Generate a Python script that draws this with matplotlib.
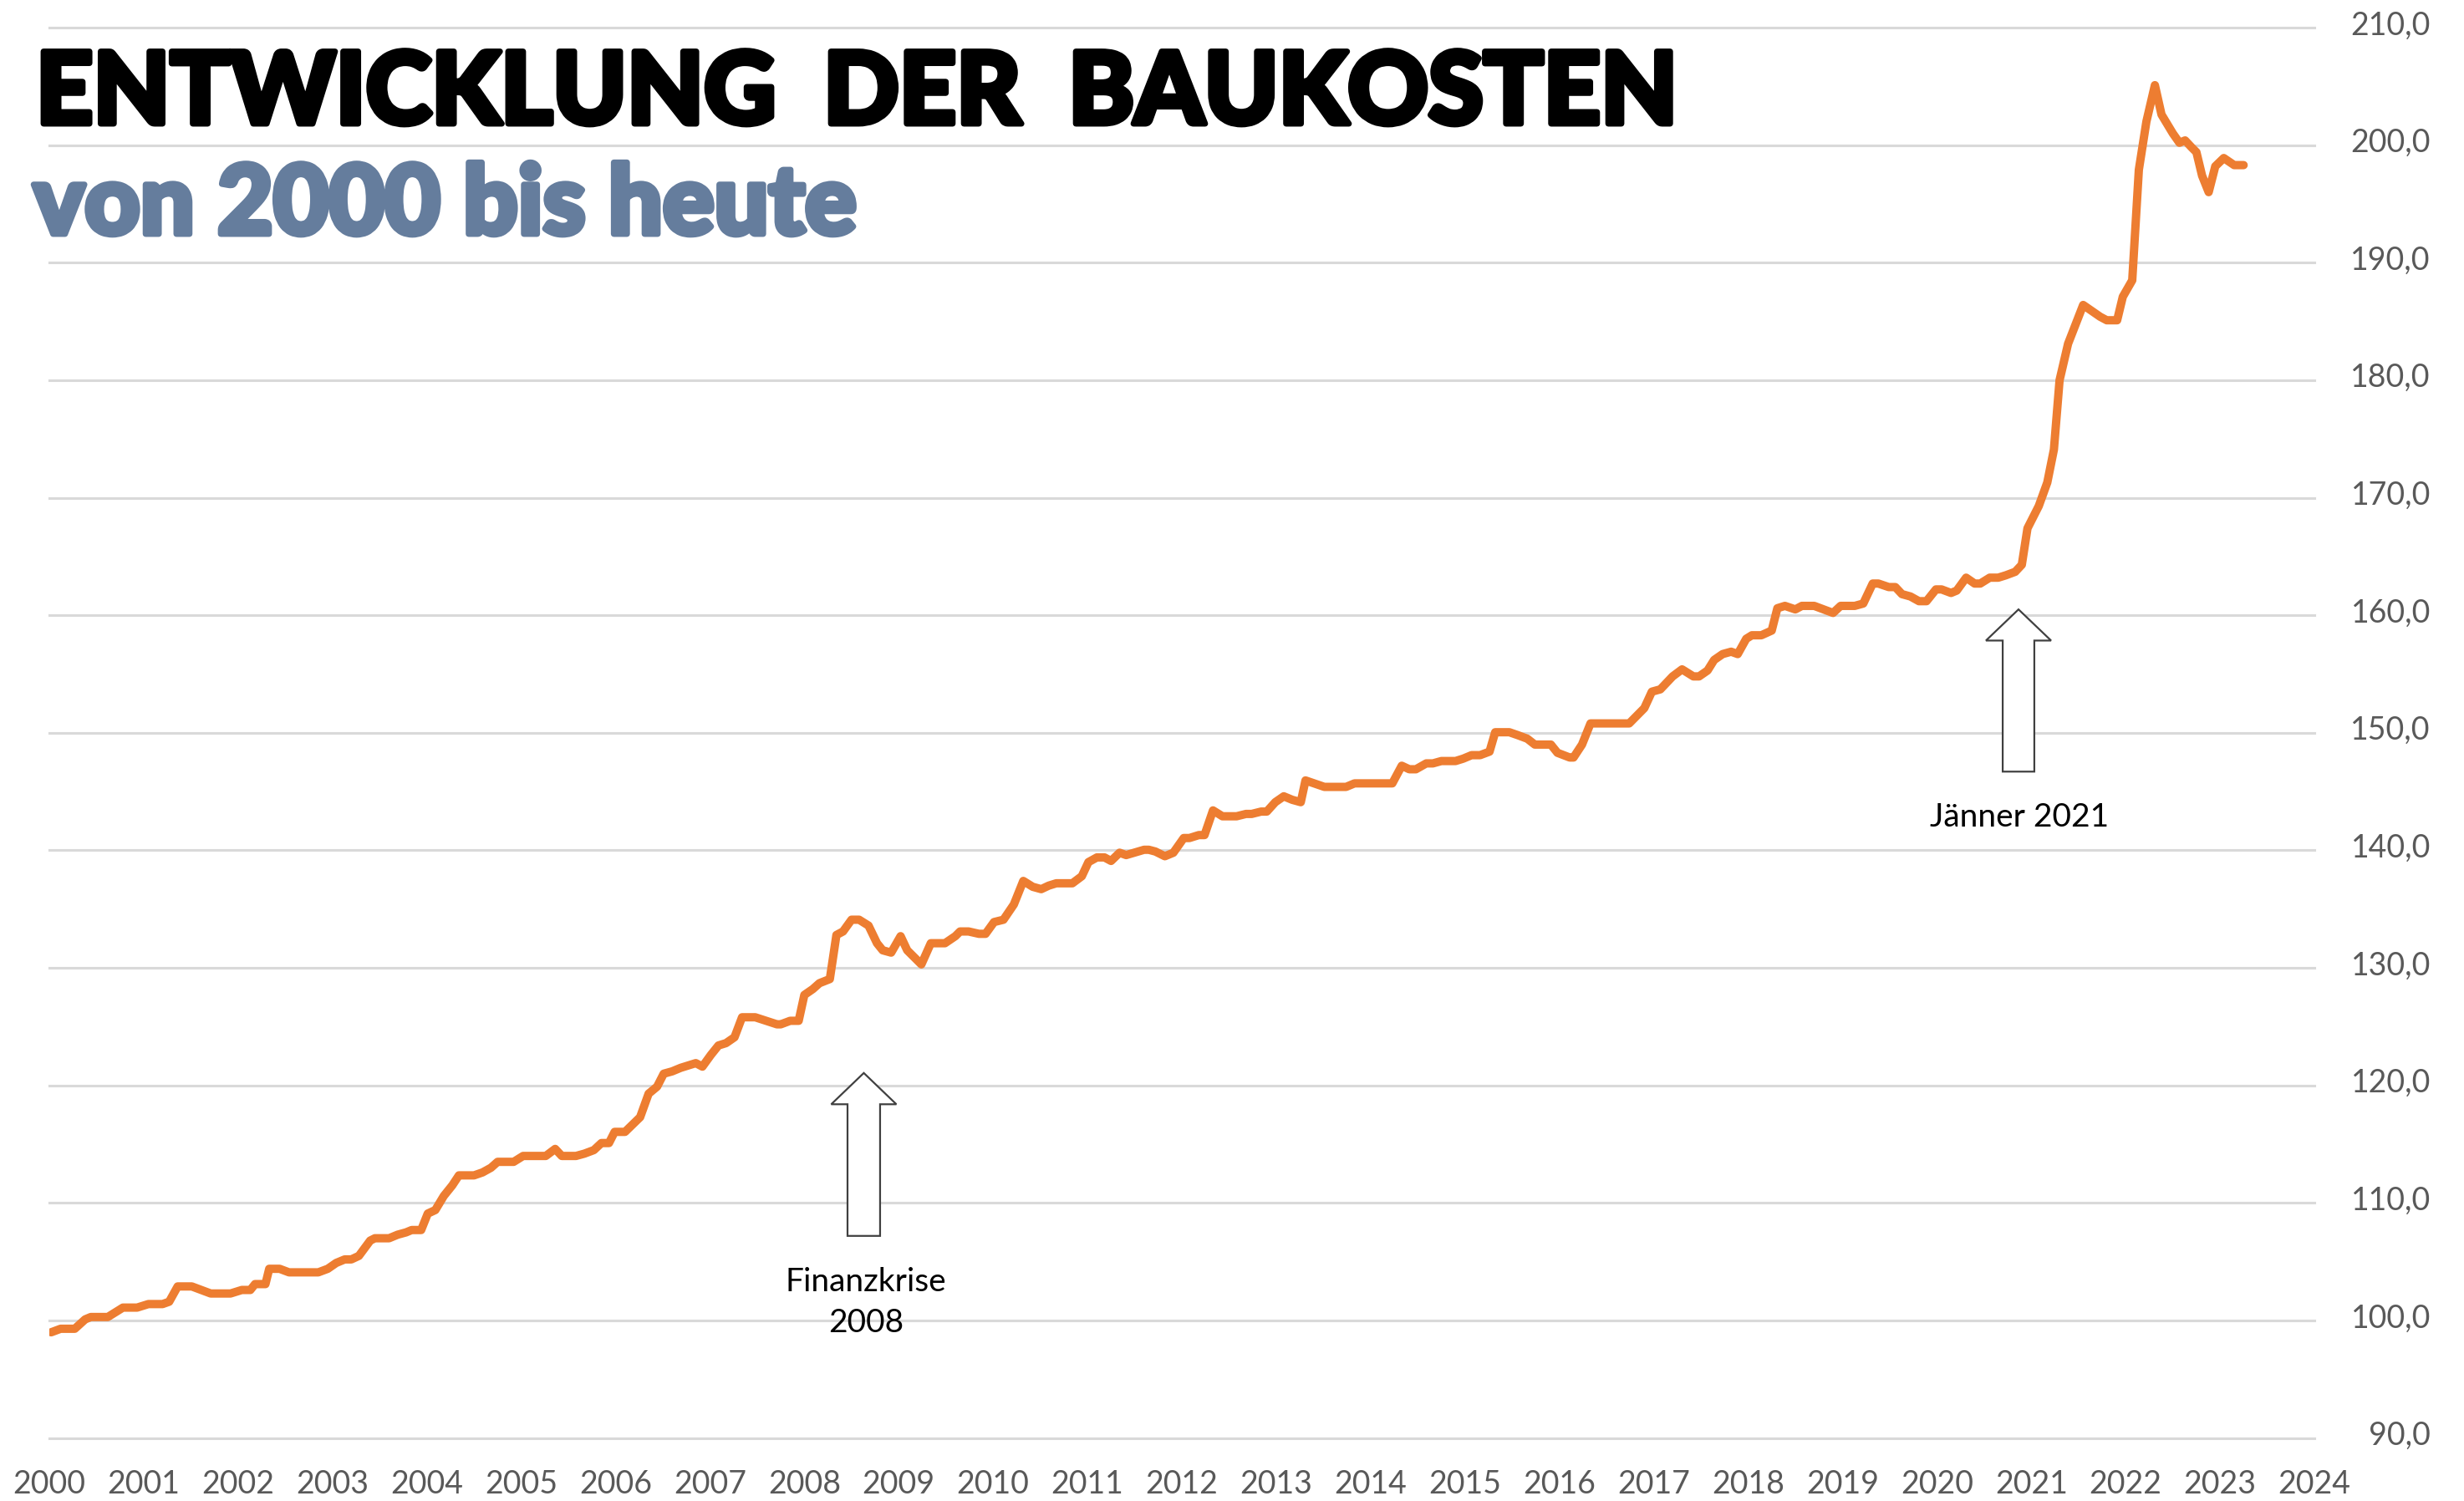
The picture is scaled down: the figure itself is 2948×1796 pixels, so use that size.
import matplotlib
matplotlib.use("Agg")
import matplotlib.pyplot as plt
import matplotlib.patheffects as pe
from matplotlib.ticker import FuncFormatter
from matplotlib.patches import FancyArrow
from matplotlib.transforms import ScaledTranslation

# ---------------- data ----------------
years = [
    2000.02, 2000.12, 2000.27, 2000.38, 2000.44, 2000.62, 2000.78, 2000.93,
    2001.05, 2001.20, 2001.27, 2001.36, 2001.51, 2001.71, 2001.92,
    2002.04, 2002.13, 2002.18, 2002.29, 2002.33, 2002.44, 2002.54, 2002.85, 2002.95,
    2003.04, 2003.13, 2003.20, 2003.28, 2003.40, 2003.45, 2003.60, 2003.69, 2003.78, 2003.84, 2003.94,
    2004.01, 2004.09, 2004.18, 2004.27, 2004.34, 2004.50, 2004.59, 2004.68, 2004.75, 2004.92,
    2005.02, 2005.26, 2005.36, 2005.43, 2005.58, 2005.67, 2005.77, 2005.85, 2005.93, 2005.99,
    2006.10, 2006.26, 2006.35, 2006.44, 2006.51, 2006.60, 2006.69, 2006.85, 2006.92,
    2007.01, 2007.09, 2007.17, 2007.26, 2007.34, 2007.48, 2007.71, 2007.75, 2007.85, 2007.94,
    2008.00, 2008.09, 2008.16, 2008.27, 2008.34, 2008.41, 2008.50, 2008.58, 2008.68, 2008.77, 2008.83, 2008.92,
    2009.02, 2009.09, 2009.24, 2009.34, 2009.49, 2009.60, 2009.65, 2009.74, 2009.85, 2009.92,
    2010.01, 2010.11, 2010.22, 2010.32, 2010.42, 2010.51, 2010.59, 2010.67, 2010.84, 2010.94,
    2011.01, 2011.10, 2011.18, 2011.25, 2011.34, 2011.41, 2011.60, 2011.65, 2011.72, 2011.82, 2011.91,
    2012.02, 2012.08, 2012.18, 2012.24, 2012.33, 2012.43, 2012.58, 2012.68, 2012.74, 2012.84, 2012.90, 2012.99,
    2013.08, 2013.17, 2013.26, 2013.31, 2013.51, 2013.74, 2013.83,
    2014.23, 2014.33, 2014.41, 2014.48, 2014.59, 2014.66, 2014.75, 2014.90, 2014.98,
    2015.07, 2015.16, 2015.26, 2015.32, 2015.47, 2015.56, 2015.66, 2015.74, 2015.91, 2015.98,
    2016.11, 2016.15, 2016.24, 2016.33, 2016.74, 2016.90, 2016.98,
    2017.07, 2017.20, 2017.30, 2017.42, 2017.48, 2017.57, 2017.64, 2017.73, 2017.82, 2017.89, 2017.98,
    2018.04, 2018.14, 2018.25, 2018.31, 2018.39, 2018.50, 2018.57, 2018.70, 2018.90, 2018.98,
    2019.13, 2019.22, 2019.32, 2019.38, 2019.49, 2019.56, 2019.63, 2019.72, 2019.81, 2019.89, 2019.99,
    2020.05, 2020.15, 2020.21, 2020.31, 2020.40, 2020.46, 2020.56, 2020.65, 2020.73, 2020.83, 2020.90, 2020.96,
    2021.08, 2021.17, 2021.24, 2021.30, 2021.39, 2021.55, 2021.73, 2021.80, 2021.91, 2021.97,
    2022.07, 2022.14, 2022.22, 2022.31, 2022.38, 2022.50, 2022.57, 2022.63, 2022.70, 2022.75, 2022.81, 2022.88, 2022.95,
    2023.04, 2023.15, 2023.25,
]
index_values = [
    99.0, 99.3, 99.3, 100.1, 100.3, 100.3, 101.1, 101.1,
    101.4, 101.4, 101.6, 102.9, 102.9, 102.3, 102.3,
    102.6, 102.6, 103.1, 103.1, 104.4, 104.4, 104.1, 104.1, 104.4,
    104.9, 105.2, 105.2, 105.5, 106.8, 107.0, 107.0, 107.3, 107.5, 107.7, 107.7,
    109.1, 109.4, 110.6, 111.5, 112.35, 112.35, 112.6, 113.0, 113.5, 113.5,
    114.0, 114.0, 114.6, 114.0, 114.0, 114.2, 114.5, 115.1, 115.1, 116.05,
    116.05, 117.3, 119.3, 119.9, 121.0, 121.2, 121.5, 121.9, 121.6,
    122.6, 123.4, 123.6, 124.1, 125.8, 125.8, 125.2, 125.2, 125.5, 125.5,
    127.7, 128.2, 128.7, 129.05, 132.8, 133.1, 134.1, 134.1, 133.6, 132.1, 131.5, 131.3,
    132.7, 131.5, 130.3, 132.1, 132.1, 132.7, 133.1, 133.1, 132.9, 132.9,
    133.9, 134.1, 135.4, 137.4, 136.9, 136.7, 137.0, 137.2, 137.2, 137.8,
    139.0, 139.4, 139.4, 139.1, 139.8, 139.6, 140.05, 140.05, 139.9, 139.5, 139.8,
    141.05, 141.05, 141.3, 141.3, 143.4, 142.9, 142.9, 143.1, 143.1, 143.3, 143.3, 144.1,
    144.6, 144.3, 144.1, 145.95, 145.4, 145.4, 145.7,
    145.7, 147.2, 146.9, 146.9, 147.4, 147.4, 147.6, 147.6, 147.8,
    148.1, 148.1, 148.4, 150.05, 150.05, 149.8, 149.5, 149.0, 149.0, 148.3,
    147.9, 147.9, 149.0, 150.8, 150.8, 152.1, 153.5,
    153.7, 154.8, 155.4, 154.8, 154.8, 155.3, 156.2, 156.7, 156.9, 156.7, 158.0,
    158.3, 158.3, 158.7, 160.6, 160.8, 160.5, 160.8, 160.8, 160.2, 160.8,
    160.8, 161.0, 162.7, 162.7, 162.4, 162.4, 161.8, 161.6, 161.2, 161.2, 162.2,
    162.2, 161.9, 162.1, 163.2, 162.7, 162.7, 163.2, 163.2, 163.4, 163.7, 164.3, 167.4,
    169.3, 171.3, 174.1, 180.0, 183.1, 186.4, 185.4, 185.1, 185.1, 187.1,
    188.5, 197.9, 202.0, 205.1, 202.6, 201.0, 200.2, 200.4, 199.8, 199.4, 197.4, 196.0, 198.2,
    198.9, 198.3, 198.3,
]
x_ticks = list(range(2000, 2025))
y_ticks = list(range(90, 211, 10))
title_text = "ENTWICKLUNG  DER  BAUKOSTEN"
subtitle_text = "von 2000 bis heute"
annotations = [("Finanzkrise\n2008", 2008.63), ("Jänner 2021", 2020.865)]

# ---------------- figure ----------------
W, H, DPI = 2948, 1796, 100
fig = plt.figure(figsize=(W / DPI, H / DPI), dpi=DPI)
fig.patch.set_facecolor("white")
FONT = ["Lato", "DejaVu Sans"]

ax = fig.add_axes([59 / W, 1 - 1720.7 / H, (2769 - 59) / W, (1720.7 - 33) / H])
ax.set_xlim(2000, 2024)
ax.set_ylim(90, 210)

ax.plot(years, index_values, color="#ED7D31", lw=7.2,
        solid_joinstyle="round", solid_capstyle="round", zorder=3)

ax.set_yticks(y_ticks)
ax.yaxis.set_major_formatter(FuncFormatter(lambda v, p: f"{v:.1f}".replace(".", ",")))
ax.yaxis.tick_right()
ax.tick_params(axis="y", length=0, pad=100, labelsize=27, labelcolor="#595959")
ax.set_xticks(x_ticks)
ax.set_xticklabels([str(y) for y in x_ticks])
ax.tick_params(axis="x", length=0, pad=27, labelsize=27, labelcolor="#595959")
for lab in ax.get_yticklabels() + ax.get_xticklabels():
    lab.set_fontfamily(FONT)
up_shift = ScaledTranslation(0, 4.5 / 72, fig.dpi_scale_trans)
for lab in ax.get_yticklabels():
    lab.set_horizontalalignment("right")
    lab.set_verticalalignment("center_baseline")
    lab.set_transform(lab.get_transform() + up_shift)

ax.grid(axis="y", color="#D9D9D9", lw=2.2)
ax.grid(axis="x", visible=False)
for gl in ax.get_ygridlines():
    gl.set_clip_on(False)
ax.set_axisbelow(True)
for s in ax.spines.values():
    s.set_visible(False)

# arrows
def up_arrow(x, y_base, y_tip, shaft_w, head_w, head_len):
    arr = FancyArrow(x, y_base, 0, y_tip - y_base, width=shaft_w, head_width=head_w,
                     head_length=head_len, length_includes_head=True,
                     facecolor="white", edgecolor="#404040", lw=1.6, zorder=4)
    ax.add_patch(arr)

up_arrow(annotations[0][1], 107.2, 121.06, 0.345, 0.69, 2.66)
up_arrow(annotations[1][1], 146.7, 160.5, 0.335, 0.69, 2.65)

ax.text(2008.65, 101.5, annotations[0][0], ha="center", va="center", fontsize=28,
        family=FONT, color="black", linespacing=1.45, multialignment="center")
ax.text(2020.87, 142.8, annotations[1][0], ha="center", va="center", fontsize=28,
        family=FONT, color="black")

# titles
STROKE = 5.0
t1 = fig.text(43 / W, 1 - 148 / H, title_text, fontsize=85, fontweight="black",
              family=FONT, color="black", va="baseline", ha="left",
              path_effects=[pe.withStroke(linewidth=STROKE, foreground="black")])
t2 = fig.text(40 / W, 1 - 280 / H, subtitle_text, fontsize=60, fontweight="black",
              family=FONT, color="#657D9D", va="baseline", ha="left",
              path_effects=[pe.withStroke(linewidth=STROKE, foreground="#657D9D")])

fig.canvas.draw()
r = fig.canvas.get_renderer()
stroke_px = STROKE * DPI / 72
for t, target in ((t1, 1971 - stroke_px), (t2, 992 - stroke_px)):
    bb = t.get_window_extent(r)
    t.set_fontsize(t.get_fontsize() * target / bb.width)

fig.savefig("out.png", dpi=DPI, facecolor="white")
